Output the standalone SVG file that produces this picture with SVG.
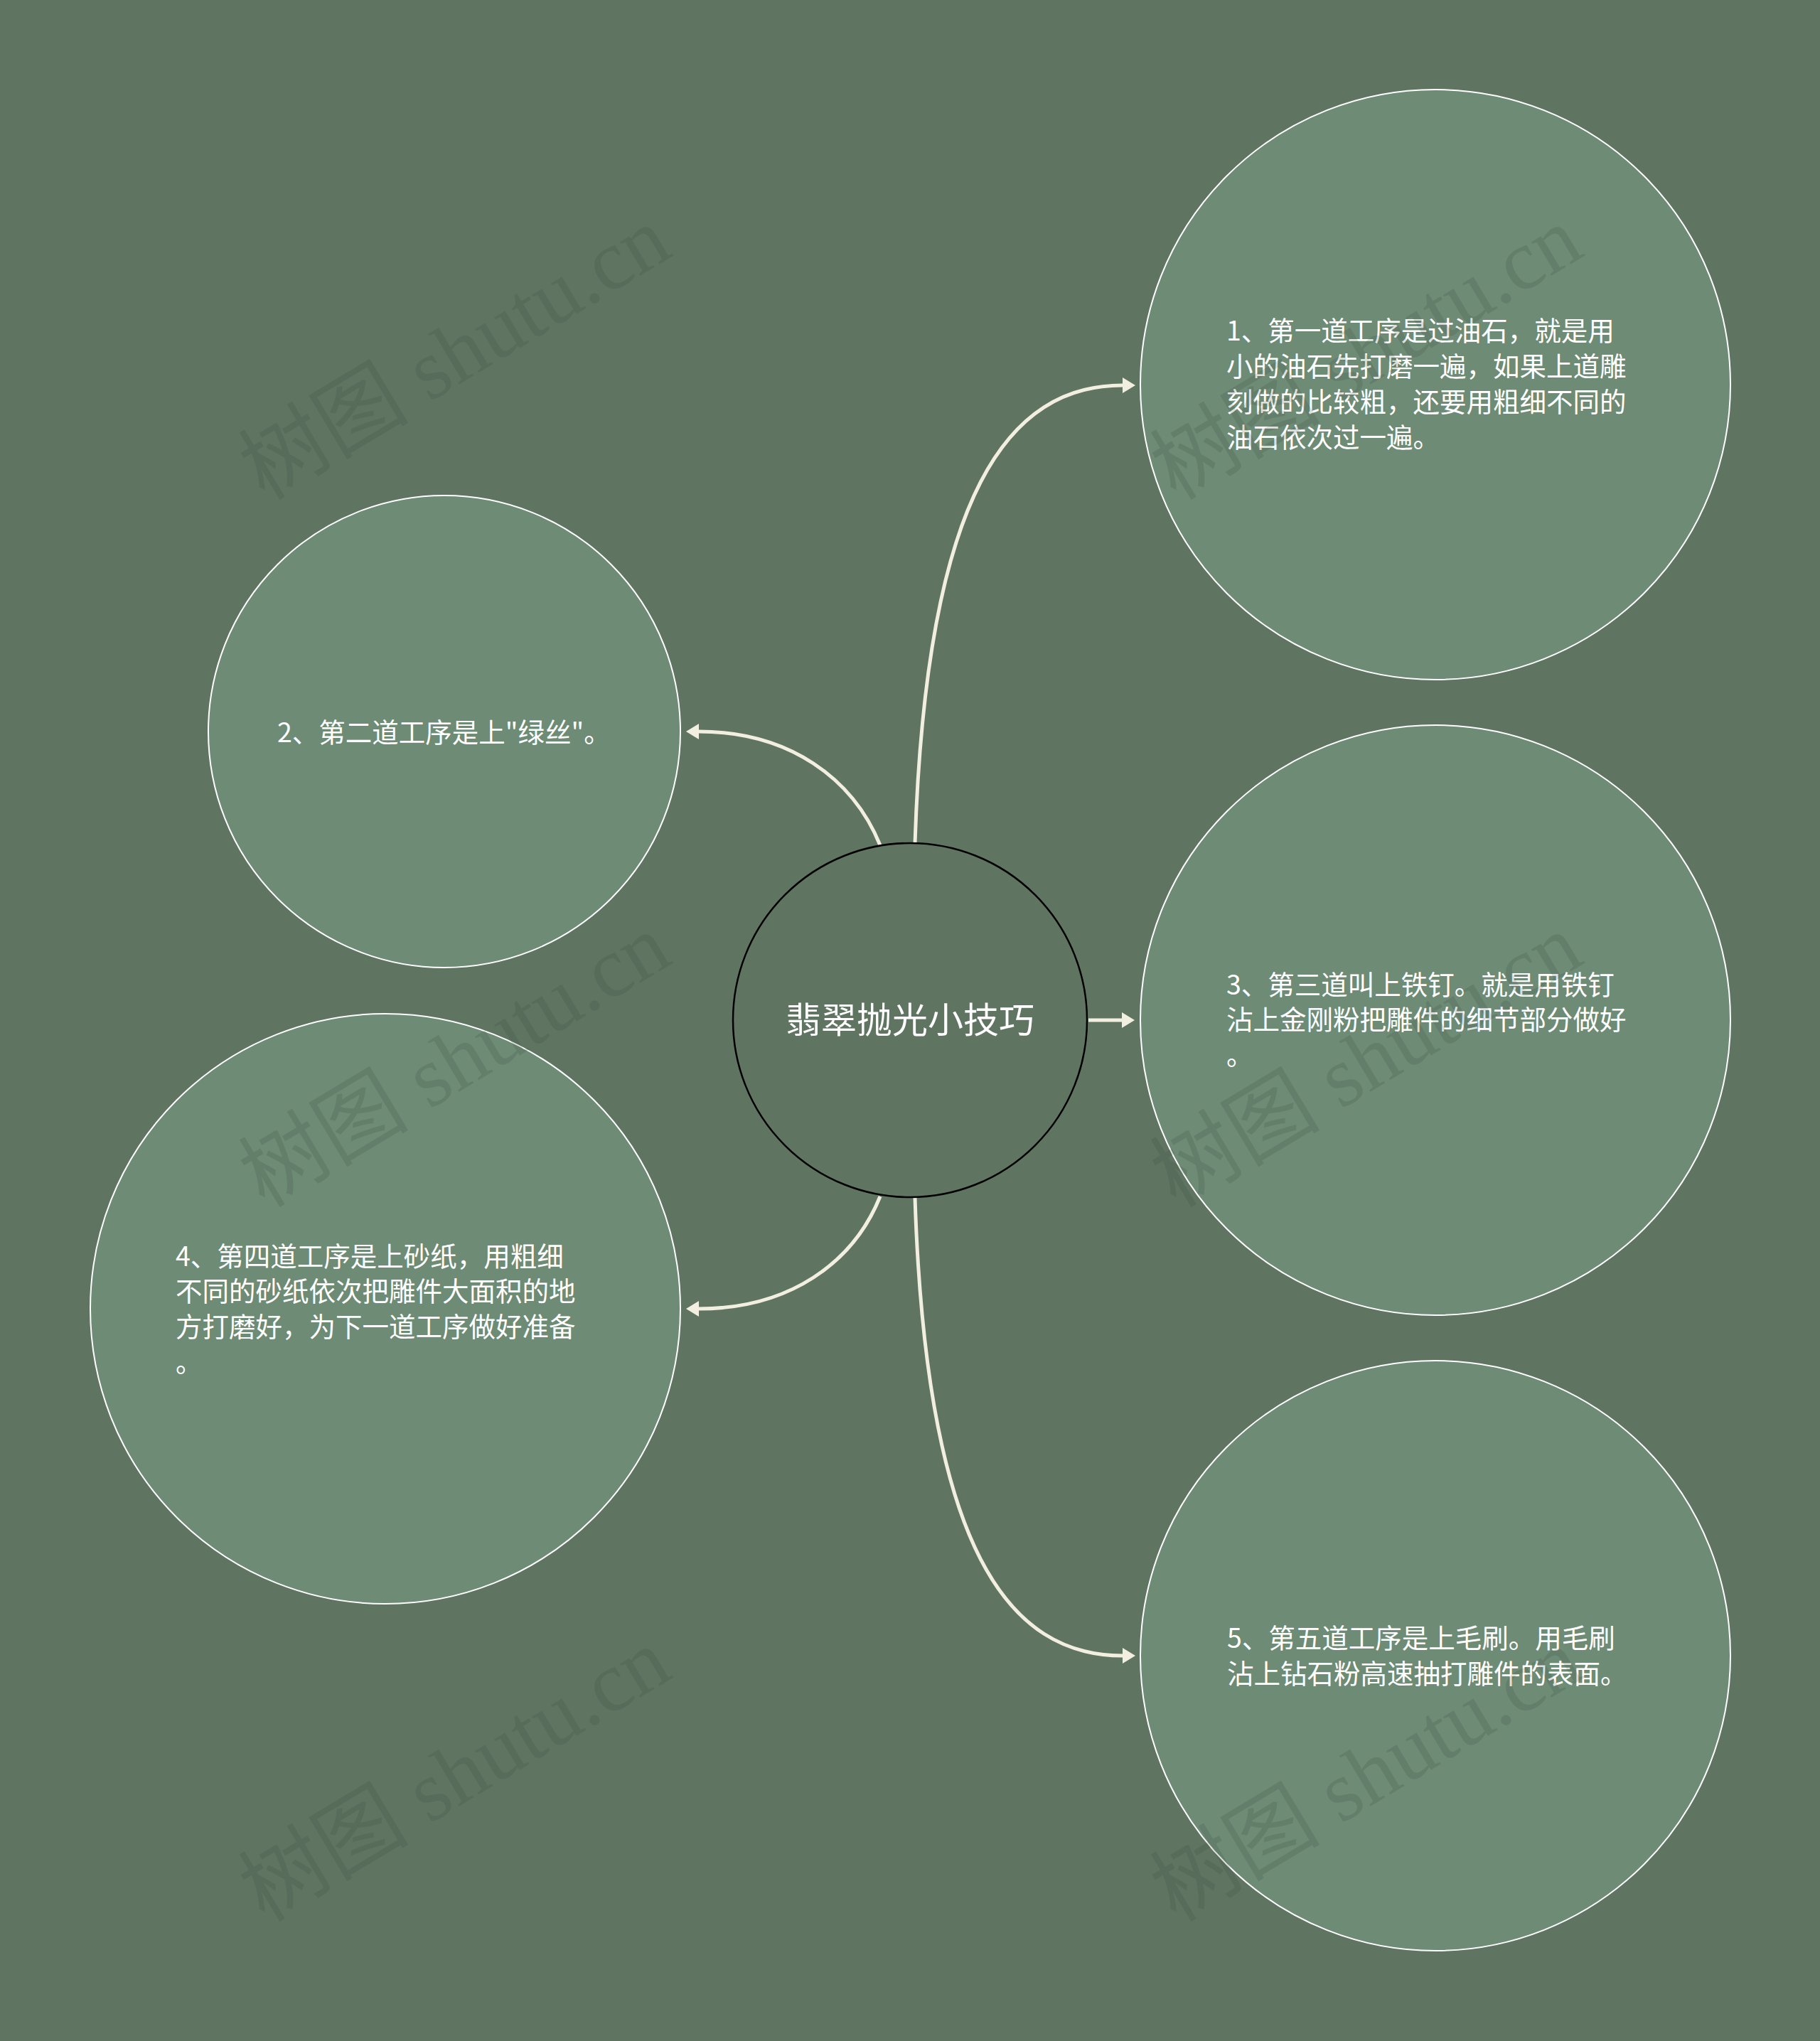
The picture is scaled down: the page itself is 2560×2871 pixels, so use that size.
<svg xmlns="http://www.w3.org/2000/svg" width="2560" height="2871" viewBox="0 0 2560 2871">
<style>
.bg{fill:#5f7562}
.node{fill:#6d8b75;stroke:#ffffff;stroke-width:2}
.center{fill:#5f7562;stroke:#000000;stroke-width:2.5}
.txt{font-family:"Noto Sans CJK SC","Noto Sans",sans-serif;font-size:37.5px;fill:#ffffff}
.ctxt{font-family:"Noto Sans CJK SC","Noto Sans",sans-serif;font-size:50px;fill:#ffffff}
.conn{fill:none;stroke:#f3efe0;stroke-width:5}
.wm{font-family:"Liberation Serif","Noto Sans CJK SC",serif;font-size:120px;fill:#2f3d33;fill-opacity:0.16}
</style>
<defs>
<marker id="arr" markerUnits="userSpaceOnUse" markerWidth="18" markerHeight="22" viewBox="0 0 18 22" refX="0" refY="11" orient="auto">
<path d="M0,0 L18,11 L0,22 z" fill="#f3efe0"/>
</marker>
</defs>
<rect class="bg" x="0" y="0" width="2560" height="2871"/>
<g id="connectors">
<path class="conn" d="M1287,1186 C1303,690 1420,542 1579,542" marker-end="url(#arr)"/>
<path class="conn" d="M1238,1189 C1200,1095 1110,1029 983,1029" marker-end="url(#arr)"/>
<path class="conn" d="M1531,1435 L1578,1435" marker-end="url(#arr)"/>
<path class="conn" d="M1238,1683 C1200,1777 1110,1841 983,1841" marker-end="url(#arr)"/>
<path class="conn" d="M1287,1685 C1303,2182 1420,2329 1579,2329" marker-end="url(#arr)"/>
</g>
<g id="center">
<circle class="center" cx="1280" cy="1435" r="249"/>
<text class="ctxt" x="1280" y="1453" text-anchor="middle">翡翠抛光小技巧</text>
</g>
<g id="node1">
<circle class="node" cx="2019" cy="541" r="415"/>
<text class="txt" x="1725"><tspan x="1725" y="479">1、第一道工序是过油石，就是用</tspan><tspan x="1725" y="529">小的油石先打磨一遍，如果上道雕</tspan><tspan x="1725" y="579">刻做的比较粗，还要用粗细不同的</tspan><tspan x="1725" y="629">油石依次过一遍。</tspan></text>
</g>
<g id="node2">
<circle class="node" cx="625" cy="1029" r="332"/>
<text class="txt" x="390" y="1044">2、第二道工序是上"绿丝"。</text>
</g>
<g id="node3">
<circle class="node" cx="2019" cy="1435" r="415"/>
<text class="txt" x="1725"><tspan x="1725" y="1399">3、第三道叫上铁钉。就是用铁钉</tspan><tspan x="1725" y="1448">沾上金刚粉把雕件的细节部分做好</tspan><tspan x="1725" y="1498">。</tspan></text>
</g>
<g id="node4">
<circle class="node" cx="542" cy="1841" r="415"/>
<text class="txt" x="247"><tspan x="247" y="1781">4、第四道工序是上砂纸，用粗细</tspan><tspan x="247" y="1830">不同的砂纸依次把雕件大面积的地</tspan><tspan x="247" y="1880">方打磨好，为下一道工序做好准备</tspan><tspan x="247" y="1930">。</tspan></text>
</g>
<g id="node5">
<circle class="node" cx="2019" cy="2329" r="415"/>
<text class="txt" x="1726"><tspan x="1726" y="2318">5、第五道工序是上毛刷。用毛刷</tspan><tspan x="1726" y="2368">沾上钻石粉高速抽打雕件的表面。</tspan></text>
</g>
<g id="watermarks">
<text class="wm" x="372" y="705" transform="rotate(-31 372 705)">树图 shutu.cn</text>
<text class="wm" x="1654" y="705" transform="rotate(-31 1654 705)">树图 shutu.cn</text>
<text class="wm" x="372" y="1700" transform="rotate(-31 372 1700)">树图 shutu.cn</text>
<text class="wm" x="1654" y="1700" transform="rotate(-31 1654 1700)">树图 shutu.cn</text>
<text class="wm" x="372" y="2705" transform="rotate(-31 372 2705)">树图 shutu.cn</text>
<text class="wm" x="1654" y="2705" transform="rotate(-31 1654 2705)">树图 shutu.cn</text>
</g>
</svg>
